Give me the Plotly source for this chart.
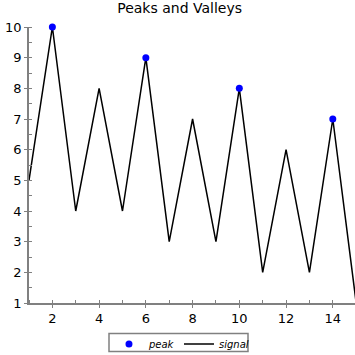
import plotly.graph_objects as go

x_vals = list(range(1, 16))
signal = [5, 10, 4, 8, 4, 9, 3, 7, 3, 8, 2, 6, 2, 7, 1]
peak_x = [2, 6, 10, 14]
peak_y = [10, 9, 8, 7]

fig = go.Figure()
fig.add_trace(go.Scatter(x=x_vals, y=signal, mode="lines", name="<i>signal</i>",
                         line=dict(color="black", width=1.5), legendrank=2))
fig.add_trace(go.Scatter(x=peak_x, y=peak_y, mode="markers", name="<i>peak</i>",
                         marker=dict(color="#0000ff", size=7), legendrank=1,
                         cliponaxis=False))

axis_common = dict(showgrid=False, zeroline=False, showline=True, linecolor="#808080",
                   linewidth=1.5, ticks="outside", ticklen=3, tickcolor="#808080",
                   tickfont=dict(family="DejaVu Sans", size=13, color="black"))

fig.update_xaxes(range=[1, 14.95], tick0=0, dtick=2,
                 minor=dict(ticks="inside", dtick=1, ticklen=3, tickcolor="#808080"),
                 **axis_common)
fig.update_yaxes(range=[1, 10], tick0=0, dtick=1,
                 minor=dict(ticks="inside", dtick=0.5, ticklen=3, tickcolor="#808080"),
                 **axis_common)

# legend frame
fig.add_shape(type="rect", xref="paper", yref="paper",
              x0=0.2454, x1=0.6718, y0=-0.176, y1=-0.1107,
              line=dict(color="#808080", width=1.5), fillcolor="rgba(0,0,0,0)")

fig.update_layout(
    width=355, height=355,
    margin=dict(l=29, r=0, t=27, b=52, autoexpand=False),
    plot_bgcolor="white", paper_bgcolor="white",
    title=dict(text="Peaks and Valleys", x=0.506, xanchor="center", y=0.992, yanchor="top",
               font=dict(family="DejaVu Sans", size=14, color="black")),
    showlegend=True,
    legend=dict(orientation="h", xref="container", yref="container",
                x=0.307, xanchor="left", y=0.072, yanchor="top",
                entrywidth=25, itemwidth=30, borderwidth=0, bgcolor="rgba(0,0,0,0)",
                font=dict(family="DejaVu Sans", size=10, color="black")),
)

fig.write_html("out.html", config={"displayModeBar": False},
               post_script="document.body.style.margin='0';document.body.style.overflow='hidden';")
